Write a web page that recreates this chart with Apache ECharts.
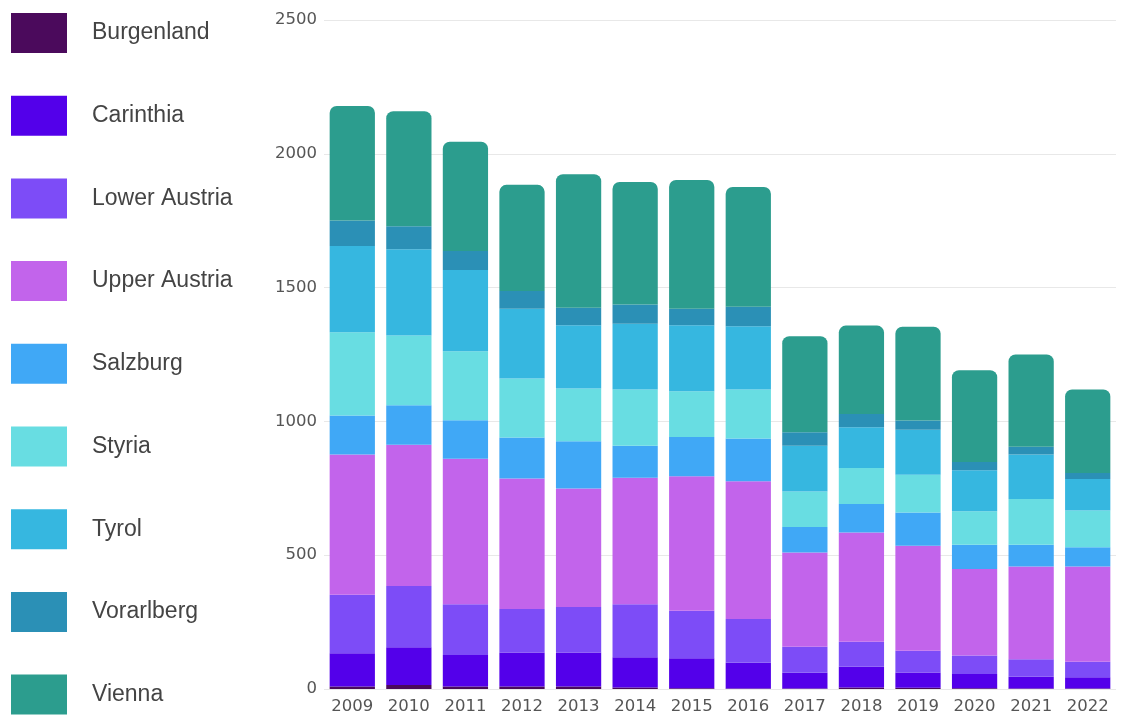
<!DOCTYPE html>
<html>
<head>
<meta charset="utf-8">
<script src="https://cdn.jsdelivr.net/npm/echarts@6/dist/echarts.min.js"></script>
<style>
html,body{margin:0;padding:0;background:#fff;}
#chart{width:1135px;height:715px;}
</style>
</head>
<body>
<div id="chart"></div>
<script>
const years = ['2009','2010','2011','2012','2013','2014','2015','2016','2017','2018','2019','2020','2021','2022'];
const yTicks = [0, 500, 1000, 1500, 2000, 2500];

const burgenland   = [9, 15, 9, 9, 9, 6, 3, 2, 2, 6, 5, 3, 2, 2];
const carinthia    = [125, 141, 118, 127, 127, 113, 112, 96, 59, 77, 57, 53, 44, 42];
const lowerAustria = [218, 229, 190, 163, 170, 198, 177, 164, 97, 94, 81, 69, 65, 58];
const upperAustria = [524, 528, 543, 488, 443, 472, 503, 514, 352, 408, 392, 323, 347, 356];
const salzburg     = [146, 147, 144, 153, 177, 120, 147, 160, 95, 106, 125, 91, 81, 72];
const styria       = [311, 261, 258, 220, 197, 210, 171, 183, 133, 135, 141, 125, 171, 137];
const tyrol        = [322, 322, 304, 261, 236, 246, 246, 237, 171, 152, 168, 153, 166, 118];
const vorarlberg   = [96, 86, 71, 66, 66, 72, 62, 72, 50, 50, 34, 31, 29, 22];
const vienna       = [428, 430, 408, 397, 499, 458, 481, 448, 359, 330, 351, 343, 345, 312];

const seriesNames = ['Burgenland','Carinthia','Lower Austria','Upper Austria','Salzburg','Styria','Tyrol','Vorarlberg','Vienna'];
const seriesData = [burgenland, carinthia, lowerAustria, upperAustria, salzburg, styria, tyrol, vorarlberg, vienna];
const colors = ['#4b0a5c','#5300ea','#7d4cf7','#c264eb','#40a8f6','#68dde2','#36b7e0','#2b90b6','#2c9d8e'];

const chart = echarts.init(document.getElementById('chart'), null, {renderer:'canvas'});
const series = seriesNames.map((name, i) => ({
  name: name,
  type: 'bar',
  stack: 'total',
  barCategoryGap: '20%',
  data: seriesData[i],
  itemStyle: {
    color: colors[i],
    borderRadius: i === seriesNames.length - 1 ? [7, 7, 0, 0] : 0
  },
  emphasis: {disabled: true}
}));

chart.setOption({
  animation: false,
  backgroundColor: '#ffffff',
  color: colors,
  legend: {
    orient: 'vertical',
    left: 11,
    top: 13,
    height: 702,
    padding: 0,
    itemWidth: 56,
    itemHeight: 40,
    itemGap: 42.7,
    icon: 'rect',
    data: seriesNames,
    textStyle: {
      fontFamily: 'Liberation Sans, Arial, sans-serif',
      fontSize: 23,
      color: '#444',
      padding: [0, 0, 8, 20]
    }
  },
  grid: {
    left: 324,
    right: 19,
    top: 20,
    bottom: 26,
    containLabel: false
  },
  xAxis: {
    type: 'category',
    data: years,
    axisLine: {show: false},
    axisTick: {show: false},
    axisLabel: {
      fontFamily: 'DejaVu Sans, sans-serif',
      fontSize: 16.5,
      color: '#555',
      margin: 9
    }
  },
  yAxis: {
    type: 'value',
    min: yTicks[0],
    max: yTicks[yTicks.length - 1],
    interval: yTicks[1] - yTicks[0],
    axisLine: {show: false},
    axisTick: {show: false},
    axisLabel: {
      fontFamily: 'DejaVu Sans, sans-serif',
      fontSize: 16.5,
      color: '#555',
      margin: 7,
      formatter: function (v) { return String(v); }
    },
    splitLine: {lineStyle: {color: '#e8e8e8', width: 1}}
  },
  series: series
});
</script>
</body>
</html>
